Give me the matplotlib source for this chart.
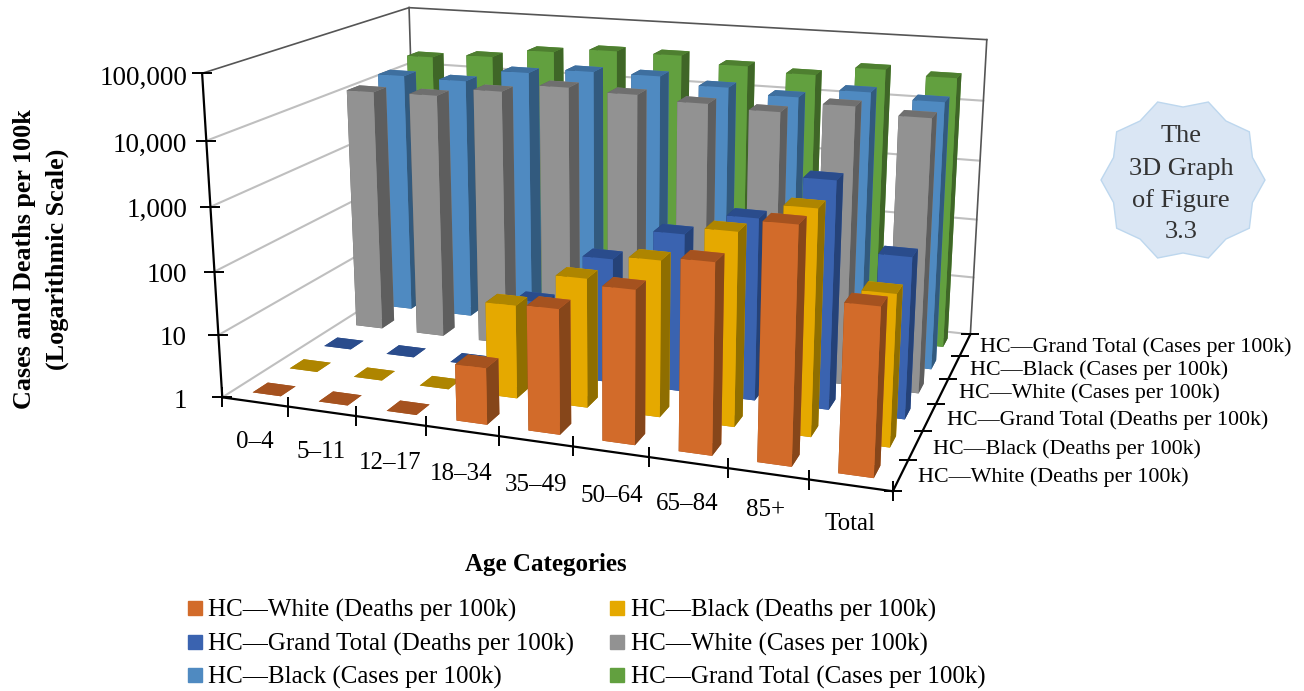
import numpy as np
import matplotlib
matplotlib.use('Agg')
import matplotlib.pyplot as plt
from matplotlib.patches import Polygon, Rectangle

plt.rcParams['font.family'] = ['Liberation Serif', 'DejaVu Serif']

categories = ['0–4', '5–11', '12–17', '18–34', '35–49', '50–64', '65–84', '85+', 'Total']
series_names = ['HC—White (Deaths per 100k)', 'HC—Black (Deaths per 100k)',
                'HC—Grand Total (Deaths per 100k)', 'HC—White (Cases per 100k)',
                'HC—Black (Cases per 100k)', 'HC—Grand Total (Cases per 100k)']
white_deaths = [1, 1, 1, 7.5, 80, 205, 670, 2900, 280]
black_deaths = [1, 1, 1, 30, 105, 260, 900, 2500, 190]
total_deaths = [1, 1, 1, 15, 100, 320, 720, 3400, 310]
white_cases = [12000, 12500, 17400, 24000, 22000, 19000, 17000, 25000, 20000]
black_cases = [14000, 13500, 22000, 27000, 27000, 21000, 17500, 25000, 21000]
total_cases = [19000, 22500, 32000, 38500, 38000, 29500, 25000, 36000, 31000]
series = [white_deaths, black_deaths, total_deaths, white_cases, black_cases, total_cases]
z_labels = ['1', '10', '100', '1,000', '10,000', '100,000']

face_colors = ['#D26B2A', '#E5A900', '#3A63B0', '#929292', '#4F8AC1', '#62A03F']
top_colors = ['#A5521F', '#AE8500', '#2A4C8C', '#6F6F6F', '#3E6F9F', '#4E7F30']
side_colors = ['#86461A', '#8F6E00', '#254278', '#5E5E5E', '#325A7E', '#3F6627']

W, H = 1304, 691
fig = plt.figure(figsize=(W/100, H/100), dpi=100)
ax = fig.add_axes([-0.0355, 0.1774, 1, 1], projection='3d')
nx, ny, nz = len(categories), len(series), 5
ax.set_xlim(0, nx, view_margin=0)
ax.set_ylim(0, ny, view_margin=0)
ax.set_zlim(0, nz, view_margin=0)
ax.set_axis_off()
ax.computed_zorder = False
ax.view_init(elev=15.1736, azim=-70.3685)
ax.set_proj_type('persp', focal_length=0.4716)
ax.set_box_aspect((1, 0.6591, 0.4867), zoom=1.1927)


def line(a, b, **kw):
    ax.plot([a[0], b[0]], [a[1], b[1]], [a[2], b[2]], **kw)


gray = dict(color='#BFBFBF', lw=1.5, zorder=1, solid_capstyle='round')
dark = dict(color='#555555', lw=1.2, zorder=1)
black = dict(color='black', lw=1.6, zorder=5000)
for z in range(0, nz):
    line((0, 0, z), (0, ny, z), **gray)
    line((0, ny, z), (nx, ny, z), **gray)
line((0, 0, nz), (0, ny, nz), **dark)
line((0, ny, nz), (nx, ny, nz), **dark)
line((0, ny, 0), (0, ny, nz), **dark)
line((nx, ny, 0), (nx, ny, nz), **dark)
line((nx, ny, 0), (nx, 0, 0), **black)
line((0, 0, 0), (nx, 0, 0), **black)
line((0, 0, 0), (0, 0, nz), **black)

order = 10
bw, bd = 0.43, 0.4
for j in range(ny-1, -1, -1):
    for i in range(nx):
        h = np.log10(series[j][i])
        ax.bar3d(i+0.5-bw/2, j+0.5-bd/2, 0, bw, bd, h, shade=False, linewidth=0,
                 color=[top_colors[j], top_colors[j], face_colors[j], face_colors[j],
                        side_colors[j], side_colors[j]],
                 zorder=order)
        order += 1

tk = dict(color='black', ls='', mew=1.4, zorder=5001)
ax.plot([0]*6, [0]*6, list(range(6)), marker='_', ms=14, **tk)
ax.plot(list(range(nx+1)), [0]*(nx+1), [0]*(nx+1), marker='|', ms=14, **tk)
ax.plot([nx]*(ny+1), list(range(ny+1)), [0]*(ny+1), marker='_', ms=13, **tk)

for art in list(ax.lines) + list(ax.collections):
    art.set_clip_on(False)


def T(x, y, s, **kw):
    return fig.text(x/W, 1-y/H, s, **kw)


zy = [401, 339, 276, 210, 145, 78]
for y, s in zip(zy, z_labels):
    T(187, y, s, ha='right', va='center', fontsize=19.5)
xl = [(255, 442), (321, 452), (390, 463), (461, 474), (536, 485), (612, 496), (687, 504), (766, 510), (850, 524)]
for (x, y), s in zip(xl, categories):
    T(x, y, s, ha='center', va='center', fontsize=18)
yl = [(918, 477), (933, 449), (947, 420), (959, 393), (970, 370), (980, 347)]
for (x, y), s in zip(yl, series_names):
    T(x, y, s, ha='left', va='center', fontsize=15.85)
T(25, 259, 'Cases and Deaths per 100k', rotation=90, ha='center', va='center', fontsize=18.8, fontweight='bold')
T(57, 259, '(Logarithmic Scale)', rotation=90, ha='center', va='center', fontsize=18.8, fontweight='bold')
T(546, 565, 'Age Categories', ha='center', va='center', fontsize=18, fontweight='bold')

rows = [610, 644, 677]
lx = [(188, 208), (610, 631)]
for k, s in enumerate(series_names):
    r = k//2
    c = k % 2
    fig.add_artist(Rectangle((lx[c][0]/W, 1-(rows[r]+7-2)/H), 14/W, 14/H, color=face_colors[k],
                             transform=fig.transFigure))
    T(lx[c][1], rows[r], s, ha='left', va='center', fontsize=18)

ang = np.deg2rad(np.arange(0, 360, 18))
rad = np.where(np.arange(20) % 2 == 0, 82, 73)
star = np.c_[(1183+rad*np.cos(ang))/W, 1-(180-rad*np.sin(ang))/H]
fig.add_artist(Polygon(star, closed=True, facecolor='#DAE6F4', edgecolor='#BDD7EE', lw=1,
                       transform=fig.transFigure))
for y, s in zip([136, 169, 201, 232], ['The', '3D Graph', 'of Figure', '3.3']):
    T(1181, y, s, ha='center', va='center', fontsize=19, color='#333333')

fig.savefig('out.png', dpi=100)
